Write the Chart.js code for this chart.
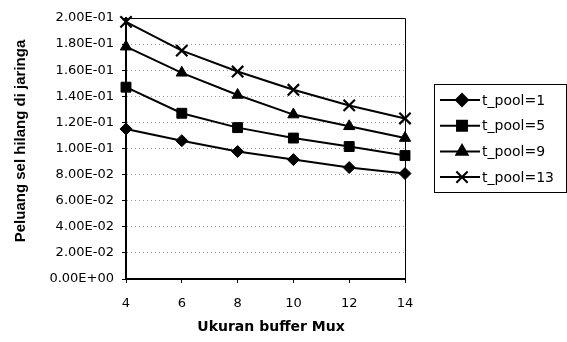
<!DOCTYPE html>
<html><head><meta charset="utf-8">
<script src="https://cdn.jsdelivr.net/npm/chart.js@4.4.0/dist/chart.umd.min.js"></script>
<style>html,body{margin:0;padding:0;background:#fff}#wrap{width:567px;height:342px;position:relative}</style>
</head><body><div id="wrap"><canvas id="c" width="567" height="342"></canvas></div>
<script>
const categories = ['4','6','8','10','12','14'];
const seriesNames = ['t_pool=1','t_pool=5','t_pool=9','t_pool=13'];
const pool1 = [0.115, 0.106, 0.0977, 0.0915, 0.0854, 0.0808];
const pool5 = [0.147, 0.127, 0.116, 0.108, 0.1015, 0.0946];
const pool9 = [0.178, 0.158, 0.141, 0.126, 0.117, 0.108];
const pool13 = [0.197, 0.175, 0.159, 0.145, 0.133, 0.123];
const yTitle = 'Peluang sel hilang di jaringa';
const xTitle = 'Ukuran buffer Mux';

const FONT = "'DejaVu Sans', sans-serif";
const VFONT = "'Liberation Sans', Arial, sans-serif";
const styles = ['rectRot','rect','triangle','crossRot'];
const radii = [6,7,6.5,8];
const values = [pool1,pool5,pool9,pool13];

function fmt(v){
  if (Math.abs(v) < 1e-12) return '0.00E+00';
  let e = Math.floor(Math.log10(Math.abs(v)) + 1e-9);
  let m = v/Math.pow(10,e);
  if (Math.abs(m) >= 9.995){ m/=10; e+=1; }
  const s = e<0?'-':'+';
  return m.toFixed(2)+'E'+s+String(Math.abs(e)).padStart(2,'0');
}

const boxPlugin = {
  id:'box',
  afterDraw(chart){
    const {ctx, chartArea:a} = chart;
    ctx.save();
    ctx.strokeStyle='#000'; ctx.lineWidth=1;
    ctx.beginPath();
    ctx.moveTo(a.left, a.top+0.5); ctx.lineTo(a.right+0.5, a.top+0.5); ctx.lineTo(a.right+0.5, a.bottom);
    ctx.stroke();
    // titles
    ctx.fillStyle='#000';
    ctx.textAlign='center'; ctx.textBaseline='middle';
    ctx.font = "bold 14px "+FONT;
    ctx.fillText(xTitle, 271, 327);
    ctx.save();
    ctx.translate(21, 141); ctx.rotate(-Math.PI/2);
    ctx.font = "bold 15px "+VFONT;
    ctx.fillText(yTitle, 0, 0);
    ctx.restore();
    // legend
    const lx=434, ly=84, lw=132, lh=108;
    ctx.lineWidth=1; ctx.strokeStyle='#000';
    ctx.strokeRect(lx+0.5, ly+0.5, lw, lh);
    chart.data.datasets.forEach((ds,i)=>{
      const y = ly + 16 + i*25.7;
      ctx.strokeStyle='#000'; ctx.lineWidth=2;
      ctx.beginPath(); ctx.moveTo(lx+6,y); ctx.lineTo(lx+46,y); ctx.stroke();
      Chart.helpers.drawPoint(ctx, {pointStyle: ds.pointStyle, radius: ds.pointRadius, borderWidth: ds.pointBorderWidth, rotation:0}, lx+28, y);
      ctx.fillStyle='#000';
      ctx.font = "14px "+FONT;
      ctx.textBaseline='middle'; ctx.textAlign='left';
      ctx.fillText(ds.label, lx+48, y+1);
    });
    ctx.restore();
  }
};

new Chart(document.getElementById('c'), {
  type:'line',
  data:{
    labels: categories,
    datasets: values.map((v,i)=>({
      label: seriesNames[i],
      data: v,
      borderColor:'#000',
      backgroundColor:'#000',
      borderWidth:2,
      pointStyle: styles[i],
      pointRadius: radii[i],
      pointBorderWidth: i===3?2.2:1,
      pointBackgroundColor:'#000',
      pointBorderColor:'#000',
      tension:0,
      clip:false
    }))
  },
  options:{
    responsive:false,
    animation:false,
    devicePixelRatio:1,
    layout:{padding:{left:0,right:162,top:18,bottom:0}},
    plugins:{legend:{display:false}, tooltip:{enabled:false}},
    scales:{
      x:{
        offset:false,
        grid:{drawOnChartArea:false, tickLength:4, tickColor:'#000'},
        border:{display:true,color:'#000',width:2},
        ticks:{color:'#000', font:{family:FONT,size:13}, padding:13, maxRotation:0},
        afterFit(s){ s.height = 63; }
      },
      y:{
        min:0,max:0.2,
        grid:{color:'#999', tickLength:4, tickColor:'#000', lineWidth:1},
        border:{display:true,color:'#000',width:2,dash:[1,3]},
        ticks:{stepSize:0.02, color:'#000', font:{family:FONT,size:13}, padding:8, callback:(v)=>fmt(v)},
        afterFit(s){ s.width = 126; }
      }
    }
  },
  plugins:[boxPlugin]
});
</script>
</body></html>
